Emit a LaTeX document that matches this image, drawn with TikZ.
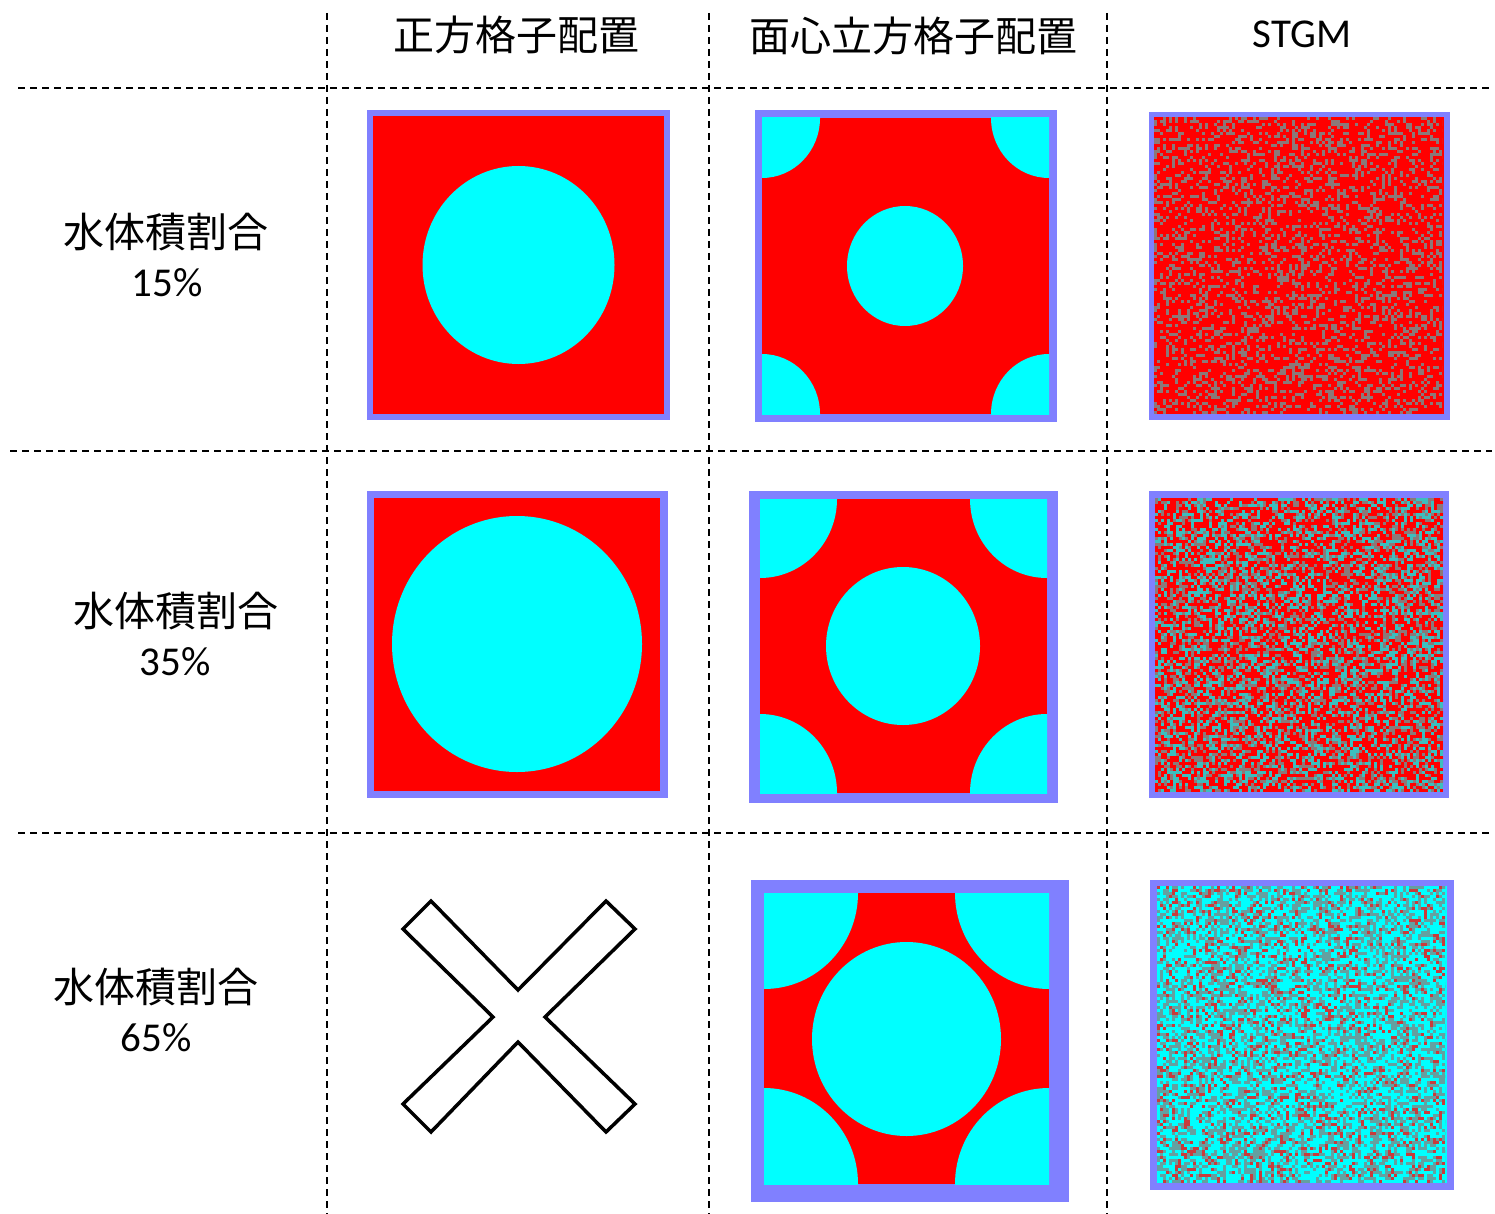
\documentclass[tikz,border=0pt]{standalone}
\usepackage{fontspec}
\setmainfont{Carlito}
\newfontfamily\jp{Noto Sans CJK JP}
\definecolor{lav}{RGB}{128,128,255}
\definecolor{myred}{RGB}{255,0,0}
\definecolor{aqua}{RGB}{0,255,255}
\definecolor{spgrey}{RGB}{140,120,120}
\definecolor{spteal}{RGB}{60,190,190}
\definecolor{sptgrey}{RGB}{100,160,160}
\definecolor{spred}{RGB}{200,60,60}
\newcount\dcur \newdimen\dlen \newcount\dk
% build one random row of 3pt cells as a dash pattern in \ds
\newcommand\buildrow[2]{%
  \gdef\ds{}\global\dcur=1 \global\dlen=0pt \global\dk=0
  \loop
    \pgfmathtruncatemacro\cellstate{rnd<#2}%
    \ifnum\cellstate=\dcur
      \global\advance\dlen by 3pt
    \else
      \ifnum\dcur=1 \xdef\ds{\ds on \the\dlen\space}\else\xdef\ds{\ds off \the\dlen\space}\fi
      \global\dcur=\cellstate\relax
      \global\dlen=3pt
    \fi
    \global\advance\dk by 1
  \ifnum\dk<#1 \repeat
  \ifnum\dcur=1 \xdef\ds{\ds on \the\dlen\space off 1000pt}\else\xdef\ds{\ds off \the\dlen}\fi}
% x0 y0 ncols nrows prob colour
\newcommand\noisepanel[6]{%
  \foreach \r in {1,...,#4}{%
    \buildrow{#3}{#5}%
    \pgfmathsetmacro\yy{#2+(\r-0.5)*3}%
    \pgfmathsetmacro\xe{#1+#3*3}%
    \edef\tmp{\noexpand\draw[#6,line width=3pt,dash pattern={\ds}] (#1,\yy) -- (\xe,\yy);}\tmp}}
\begin{document}
\begin{tikzpicture}[x=1pt,y=-1pt,
  grid/.style={dashed,dash pattern=on 7pt off 5pt,line width=1.7pt,black},
  frame/.style={fill=lav},
  fuel/.style={fill=myred},
  water/.style={fill=aqua},
  hdr/.style={font=\fontsize{41}{44}\selectfont,inner sep=0pt},
  lbl/.style={font=\fontsize{41}{44}\selectfont,inner sep=0pt},
  cross/.style={draw=black,line width=3.5pt,fill=white,line join=miter}]
\useasboundingbox (0,0) rectangle (1495,1214);
\pgfmathsetseed{12345}
% grid lines
\draw[grid] (327,13) -- (327,1214);
\draw[grid] (709,13) -- (709,1214);
\draw[grid] (1107,13) -- (1107,1214);
\draw[grid] (18,88) -- (1492,88);
\draw[grid] (10,451) -- (1492,451);
\draw[grid] (18,833) -- (1492,833);
% headers
\node[hdr] (h1) at (516.5,35) {\jp 正方格子配置};
\node[hdr] (h2) at (913.5,36) {\jp 面心立方格子配置};
\node[hdr] (h3) at (1302,34) {STGM};
% row labels
\node[lbl] (r1a) at (166,232) {\jp 水体積割合};
\node[lbl] (r1b) at (167,283) {15\%};
\node[lbl] (r2a) at (175.5,611) {\jp 水体積割合};
\node[lbl] (r2b) at (175,662) {35\%};
\node[lbl] (r3a) at (155.5,987) {\jp 水体積割合};
\node[lbl] (r3b) at (156,1038) {65\%};
% ---- row 1 ----
% square lattice
\fill[frame] (367,110) rectangle (670,420);
\fill[fuel] (373,116) rectangle (664,414);
\fill[water] (518.5,265) ellipse [x radius=96,y radius=99];
% fcc
\fill[frame] (755,110) rectangle (1057,422);
\begin{scope}
\clip (762,118) rectangle (1049,414);
\fill[fuel] (762,118) rectangle (1049,414);
\fill[water] (905,266) ellipse [x radius=58,y radius=60];
\fill[water] (762,118) ellipse [x radius=58,y radius=60];
\fill[water] (1049,118) ellipse [x radius=58,y radius=60];
\fill[water] (762,414) ellipse [x radius=58,y radius=60];
\fill[water] (1049,414) ellipse [x radius=58,y radius=60];
\end{scope}
% stgm
\fill[frame] (1149,112) rectangle (1450,420);
\fill[fuel] (1154,117) rectangle (1444,414);
\noisepanel{1154}{117}{96}{99}{0.3}{spgrey}
% ---- row 2 ----
\fill[frame] (367,491) rectangle (668,798);
\fill[fuel] (374,498) rectangle (660,791);
\fill[water] (517,644) ellipse [x radius=125,y radius=128];
% fcc
\fill[frame] (749,491) rectangle (1058,803);
\begin{scope}
\clip (760,499) rectangle (1047,793);
\fill[fuel] (760,499) rectangle (1047,793);
\fill[water] (903,646) ellipse [x radius=77,y radius=79];
\fill[water] (760,499) ellipse [x radius=77,y radius=79];
\fill[water] (1047,499) ellipse [x radius=77,y radius=79];
\fill[water] (760,793) ellipse [x radius=77,y radius=79];
\fill[water] (1047,793) ellipse [x radius=77,y radius=79];
\end{scope}
% stgm
\fill[frame] (1149,491) rectangle (1449,798);
\fill[fuel] (1155,498) rectangle (1443,792);
\noisepanel{1155}{498}{96}{98}{0.3}{spgrey}
\noisepanel{1155}{498}{96}{98}{0.28}{spteal}
% ---- row 3 ----
\draw[cross] (431,901) -- (518,990) -- (606,901) -- (635,929) -- (545,1017)
  -- (635,1104) -- (606,1132) -- (518,1042) -- (431,1132) -- (403,1104)
  -- (493,1017) -- (403,929) -- cycle;
% fcc
\fill[frame] (751,880) rectangle (1069,1202);
\begin{scope}
\clip (764,893) rectangle (1049,1184);
\fill[fuel] (764,893) rectangle (1049,1184);
\fill[water] (906.5,1039) ellipse [x radius=94.5,y radius=97];
\fill[water] (764,893) ellipse [x radius=94,y radius=96];
\fill[water] (1049,893) ellipse [x radius=94,y radius=96];
\fill[water] (764,1184) ellipse [x radius=94,y radius=96];
\fill[water] (1049,1184) ellipse [x radius=94,y radius=96];
\end{scope}
% stgm
\fill[frame] (1150,880) rectangle (1454,1190);
\fill[water] (1157,886) rectangle (1447,1183);
\noisepanel{1157}{886}{96}{99}{0.42}{sptgrey}
\noisepanel{1157}{886}{96}{99}{0.15}{spred}
\end{tikzpicture}
\end{document}
